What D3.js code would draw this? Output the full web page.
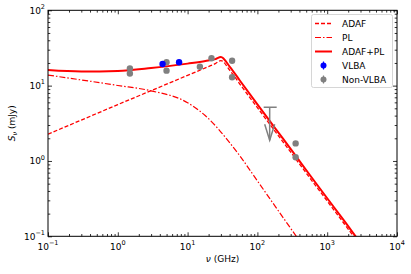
<!DOCTYPE html>
<html>
<head>
<meta charset="utf-8">
<script src="https://cdn.jsdelivr.net/npm/d3@7"></script>
<style>
  body { margin: 0; background: #fff; }
  text { font-family: "DejaVu Sans", sans-serif; fill: #000; }
</style>
</head>
<body>
<div id="chart"></div>
<script>
// model curves (nu in GHz, flux in mJy)
var nuGrid  = [0.1, 0.3, 1, 3, 10, 18, 25, 30, 40, 56, 100, 180, 320, 560, 1000, 1800, 3200];
var adafS   = [2.27, 3.49, 5.6, 8.57, 13.7, 17.2, 19.6, 21.5, 16.1, 10.5, 5.1, 2.46, 1.21, 0.60, 0.294, 0.142, 0.0695];
var plS     = [13.8, 11.9, 10.05, 8.53, 5.93, 3.98, 2.94, 2.42, 1.75, 1.17, 0.544, 0.25, 0.117, 0.056];
var totalS  = [16.1, 15.4, 15.65, 17.1, 19.6, 21.2, 22.5, 24.0, 17.9, 11.7, 5.64, 2.71, 1.33, 0.656, 0.32, 0.155, 0.075];

// observations
var vlbaNu = [4.38, 7.55];
var vlbaS  = [19.4, 20.4];
var otherNu = [1.49, 1.49, 4.99, 4.99, 15.0, 22.0, 43.4, 43.4, 353, 353];
var otherS  = [16.9, 14.5, 20.4, 15.8, 17.8, 23.1, 21.4, 12.9, 1.71, 1.12];
var limitNu = [150];
var limitS  = [5.15];

var xMajor = [0.1, 1, 10, 100, 1000, 10000];
var xExp   = ["\u22121", "0", "1", "2", "3", "4"];
var yMajor = [0.1, 1, 10, 100];
var yExp   = ["\u22121", "0", "1", "2"];

var W = 411, H = 274;
var L = 48, R = 397, T = 10.3, B = 236.3;

var svg = d3.select("#chart").append("svg").attr("width", W).attr("height", H);

var x = d3.scaleLog().domain([0.1, 1e4]).range([L, R]);
var y = d3.scaleLog().domain([0.1, 100]).range([B, T]);

function minors(lo, hi) {
  var out = [];
  for (var d = lo; d < hi; d *= 10)
    for (var k = 2; k <= 9; k++) out.push(d * k);
  return out;
}

svg.append("defs").append("clipPath").attr("id", "clip")
  .append("rect").attr("x", L).attr("y", T).attr("width", R - L).attr("height", B - T);

var plot = svg.append("g").attr("clip-path", "url(#clip)");

function curve(nus, vals) {
  return d3.line()
    .x(function(d, i) { return x(nus[i]); })
    .y(function(d) { return y(d); })
    .curve(d3.curveMonotoneX)(vals);
}

plot.append("path").attr("d", curve(nuGrid, adafS))
  .attr("fill", "none").attr("stroke", "#ff0000").attr("stroke-width", 1.3)
  .attr("stroke-dasharray", "4,2");
plot.append("path").attr("d", curve(nuGrid, plS))
  .attr("fill", "none").attr("stroke", "#ff0000").attr("stroke-width", 1.2)
  .attr("stroke-dasharray", "6,2,1.5,2");
plot.append("path").attr("d", curve(nuGrid, totalS))
  .attr("fill", "none").attr("stroke", "#ff0000").attr("stroke-width", 2);

var grey = "#808080";

// upper limit
limitNu.forEach(function(n, i) {
  var cx = x(n), cy = y(limitS[i]);
  var g = plot.append("g").attr("stroke", grey).attr("stroke-width", 1.5).attr("fill", "none");
  g.append("line").attr("x1", cx - 6).attr("x2", cx + 7).attr("y1", cy).attr("y2", cy);
  g.append("line").attr("x1", cx).attr("x2", cx).attr("y1", cy).attr("y2", cy + 33);
  g.append("path").attr("d", "M" + (cx - 5) + "," + (cy + 17) + "L" + cx + "," + (cy + 33) + "L" + (cx + 5) + "," + (cy + 17));
});

plot.selectAll(".other").data(otherNu).enter().append("circle")
  .attr("cx", function(d) { return x(d); })
  .attr("cy", function(d, i) { return y(otherS[i]); })
  .attr("r", 3.2).attr("fill", grey);

plot.selectAll(".vlba").data(vlbaNu).enter().append("circle")
  .attr("cx", function(d) { return x(d); })
  .attr("cy", function(d, i) { return y(vlbaS[i]); })
  .attr("r", 3.2).attr("fill", "#0000ff");

// ticks, inward on all four sides
var ax = svg.append("g");
ax.append("g").attr("transform", "translate(0," + B + ")")
  .call(d3.axisBottom(x).tickValues(xMajor).tickSize(-4).tickFormat(""));
ax.append("g").attr("transform", "translate(0," + B + ")")
  .call(d3.axisBottom(x).tickValues(minors(0.1, 1e4)).tickSize(-2.3).tickFormat(""));
ax.append("g").attr("transform", "translate(0," + T + ")")
  .call(d3.axisTop(x).tickValues(xMajor).tickSize(-4).tickFormat(""));
ax.append("g").attr("transform", "translate(0," + T + ")")
  .call(d3.axisTop(x).tickValues(minors(0.1, 1e4)).tickSize(-2.3).tickFormat(""));
ax.append("g").attr("transform", "translate(" + L + ",0)")
  .call(d3.axisLeft(y).tickValues(yMajor).tickSize(-4).tickFormat(""));
ax.append("g").attr("transform", "translate(" + L + ",0)")
  .call(d3.axisLeft(y).tickValues(minors(0.1, 100)).tickSize(-2.3).tickFormat(""));
ax.append("g").attr("transform", "translate(" + R + ",0)")
  .call(d3.axisRight(y).tickValues(yMajor).tickSize(-4).tickFormat(""));
ax.append("g").attr("transform", "translate(" + R + ",0)")
  .call(d3.axisRight(y).tickValues(minors(0.1, 100)).tickSize(-2.3).tickFormat(""));
ax.selectAll(".domain").remove();
ax.selectAll("line").attr("stroke", "#000").attr("stroke-width", 0.8);

svg.append("rect").attr("x", L).attr("y", T).attr("width", R - L).attr("height", B - T)
  .attr("fill", "none").attr("stroke", "#000").attr("stroke-width", 1);

// tick labels with superscript exponents
xMajor.forEach(function(v, i) {
  var t = svg.append("text").attr("x", x(v)).attr("y", B + 13.5)
    .attr("text-anchor", "middle").style("font-size", "9px");
  t.append("tspan").text("10");
  t.append("tspan").attr("dy", -4.5).style("font-size", "6.5px").text(xExp[i]);
});
yMajor.forEach(function(v, i) {
  var t = svg.append("text").attr("x", L - 3).attr("y", y(v) + 3.2)
    .attr("text-anchor", "end").style("font-size", "9px");
  t.append("tspan").text("10");
  t.append("tspan").attr("dy", -4.5).style("font-size", "6.5px").text(yExp[i]);
});

var xl = svg.append("text").attr("x", (L + R) / 2).attr("y", 262)
  .attr("text-anchor", "middle").style("font-size", "9px");
xl.append("tspan").style("font-style", "italic").text("\u03bd");
xl.append("tspan").text(" (GHz)");

var yl = svg.append("text").attr("transform", "translate(15," + ((T + B) / 2) + ") rotate(-90)")
  .attr("text-anchor", "middle").style("font-size", "9px");
yl.append("tspan").style("font-style", "italic").text("S");
yl.append("tspan").attr("dy", 2).style("font-size", "6.5px").style("font-style", "italic").text("\u03bd");
yl.append("tspan").attr("dy", -2).text(" (mJy)");

// legend
var legItems = [
  { label: "ADAF", kind: "line", dash: "4,2", w: 1.3 },
  { label: "PL", kind: "line", dash: "6,2,1.5,2", w: 1.2 },
  { label: "ADAF+PL", kind: "line", dash: null, w: 2 },
  { label: "VLBA", kind: "dot", color: "#0000ff" },
  { label: "Non-VLBA", kind: "dot", color: grey }
];
var leg = svg.append("g");
leg.append("rect").attr("x", 311.5).attr("y", 14.5).attr("width", 81).attr("height", 73)
  .attr("rx", 2).attr("fill", "#fff").attr("fill-opacity", 0.8)
  .attr("stroke", "#cccccc").attr("stroke-width", 0.8);
legItems.forEach(function(it, i) {
  var cy = 23.5 + i * 14;
  if (it.kind === "line") {
    leg.append("line").attr("x1", 315).attr("x2", 332).attr("y1", cy).attr("y2", cy)
      .attr("stroke", "#ff0000").attr("stroke-width", it.w)
      .attr("stroke-dasharray", it.dash);
  } else {
    leg.append("line").attr("x1", 323.5).attr("x2", 323.5).attr("y1", cy - 4).attr("y2", cy + 4)
      .attr("stroke", it.color).attr("stroke-width", 1.2);
    leg.append("circle").attr("cx", 323.5).attr("cy", cy).attr("r", 3).attr("fill", it.color);
  }
  leg.append("text").attr("x", 342).attr("y", cy + 3.3).style("font-size", "9px").text(it.label);
});
</script>
</body>
</html>
